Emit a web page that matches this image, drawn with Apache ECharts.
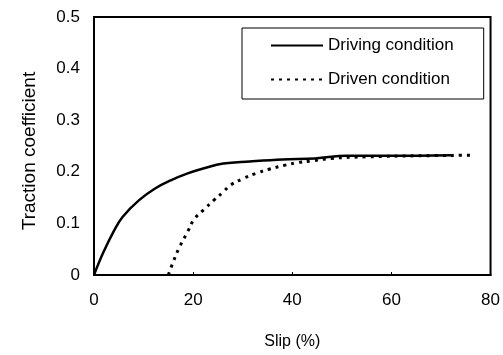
<!DOCTYPE html>
<html>
<head>
<meta charset="utf-8">
<script src="https://cdn.jsdelivr.net/npm/echarts@6/dist/echarts.min.js"></script>
<style>
  html, body { margin: 0; padding: 0; background: #fff; }
  #chart { width: 503px; height: 355px; }
</style>
</head>
<body>
<div id="chart"></div>
<script>
// slip (%) and traction coefficient
var drivingSlip = [0, 1.8, 4.1, 5.8, 9.1, 12.4, 15.6, 18.9, 22.2, 26.1, 31.4, 38, 44.6, 51, 60, 72];
var drivingCoef = [0, 0.042, 0.087, 0.113, 0.145, 0.168, 0.184, 0.197, 0.207, 0.216, 0.220, 0.224, 0.226, 0.231, 0.231, 0.232];

var drivenSlip = [15, 16, 17.3, 18.9, 20.2, 22.2, 24.2, 26.1, 27.5, 30.1, 32.7, 35.3, 38.6, 41.2, 43.9, 47.8, 55, 65, 76];
var drivenCoef = [0, 0.026, 0.055, 0.084, 0.108, 0.127, 0.145, 0.161, 0.174, 0.187, 0.197, 0.205, 0.213, 0.218, 0.221, 0.226, 0.229, 0.231, 0.232];

var seriesNames = ['Driving condition', 'Driven condition'];

function pairs(xs, ys) {
    var out = [];
    for (var i = 0; i < xs.length; i++) out.push([xs[i], ys[i]]);
    return out;
}

var chart = echarts.init(document.getElementById('chart'));
var font = 'Liberation Sans, Arial, sans-serif';

var option = {
    backgroundColor: '#fff',
    animation: false,
    textStyle: { fontFamily: font, color: '#000' },
    grid: {
        left: 94, top: 17, right: 6, bottom: 80,
        show: true, borderColor: '#000', borderWidth: 2
    },
    legend: {
        orient: 'vertical',
        left: 242, top: 28,
        padding: [9, 30, 11, 28],
        itemGap: 17,
        itemWidth: 52, itemHeight: 14,
        borderColor: '#000', borderWidth: 1,
        itemStyle: { opacity: 0 },
        textStyle: { fontFamily: font, fontSize: 17, color: '#000' },
        data: seriesNames
    },
    xAxis: {
        type: 'value',
        min: 0, max: 80, interval: 20,
        name: 'Slip (%)',
        nameLocation: 'middle',
        nameGap: 59,
        nameTextStyle: { fontFamily: font, fontSize: 16, color: '#000' },
        axisLine: { lineStyle: { color: '#000', width: 2 } },
        axisTick: { show: true, inside: true, length: 3, lineStyle: { color: '#000' } },
        axisLabel: { fontFamily: font, fontSize: 17, color: '#000', margin: 17 },
        splitLine: { show: false }
    },
    yAxis: {
        type: 'value',
        min: 0, max: 0.5, interval: 0.1,
        name: 'Traction coefficient',
        nameLocation: 'middle',
        nameGap: 55,
        nameTextStyle: { fontFamily: font, fontSize: 19, color: '#000', padding: [0, 0, 0, -10] },
        axisLine: { lineStyle: { color: '#000', width: 2 } },
        axisTick: { show: false },
        axisLabel: { fontFamily: font, fontSize: 17, color: '#000', margin: 14 },
        splitLine: { show: false }
    },
    series: [
        {
            name: seriesNames[0],
            type: 'line',
            smooth: 0.4,
            symbol: 'none',
            lineStyle: { color: '#000', width: 2.5 },
            itemStyle: { color: '#000' },
            data: pairs(drivingSlip, drivingCoef)
        },
        {
            name: seriesNames[1],
            type: 'line',
            smooth: 0.4,
            symbol: 'none',
            lineStyle: { color: '#000', width: 3, type: [3, 5] },
            itemStyle: { color: '#000' },
            data: pairs(drivenSlip, drivenCoef)
        }
    ]
};
chart.setOption(option);
</script>
</body>
</html>
